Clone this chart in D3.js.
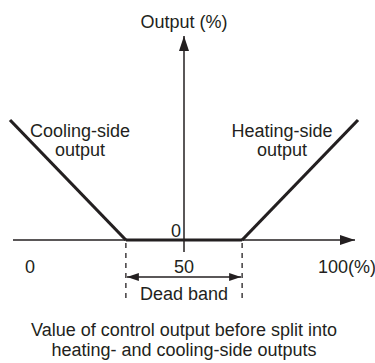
<!DOCTYPE html>
<html>
<head>
<meta charset="utf-8">
<script src="https://cdn.jsdelivr.net/npm/d3@7/dist/d3.min.js"></script>
<style>
  html, body { margin: 0; padding: 0; background: #fff; }
  svg { display: block; font-family: "Liberation Sans", Arial, sans-serif; }
  text { fill: #231f20; }
</style>
</head>
<body>
<svg id="chart" width="375" height="363"></svg>
<script>
// Split output: control value (%) -> cooling / heating output (%)
const coolingSide = [ { x: 0, y: 100 }, { x: 33.3, y: 0 } ];
const deadBand    = [ { x: 33.3, y: 0 }, { x: 66.7, y: 0 } ];
const heatingSide = [ { x: 66.7, y: 0 }, { x: 100, y: 100 } ];

const xTickLabels = ["0", "50", "100(%)"];
const xTickValues = [0, 50, 100];

const svg = d3.select("#chart");
const ink = "#231f20";
const fs = 18;

const x = d3.scaleLinear().domain([0, 100]).range([10, 358]);
const y = d3.scaleLinear().domain([0, 100]).range([240, 120]);

// arrow heads
const defs = svg.append("defs");
defs.append("marker")
  .attr("id", "arrow")
  .attr("viewBox", "0 0 15 10")
  .attr("refX", 15).attr("refY", 5)
  .attr("markerUnits", "userSpaceOnUse")
  .attr("markerWidth", 15).attr("markerHeight", 10)
  .attr("orient", "auto")
  .append("path").attr("d", "M0,0 L15,5 L0,10 Z").attr("fill", ink);
defs.append("marker")
  .attr("id", "arrowSmall")
  .attr("viewBox", "0 0 12 8")
  .attr("refX", 12).attr("refY", 4)
  .attr("markerUnits", "userSpaceOnUse")
  .attr("markerWidth", 12).attr("markerHeight", 8)
  .attr("orient", "auto-start-reverse")
  .append("path").attr("d", "M0,0 L12,4 L0,8 Z").attr("fill", ink);

// horizontal axis
svg.append("line")
  .attr("x1", 13).attr("x2", 355)
  .attr("y1", y(0)).attr("y2", y(0))
  .attr("stroke", ink).attr("stroke-width", 1.5)
  .attr("marker-end", "url(#arrow)");

// vertical axis
svg.append("line")
  .attr("x1", x(50)).attr("x2", x(50))
  .attr("y1", y(0) + 12).attr("y2", 36)
  .attr("stroke", ink).attr("stroke-width", 1.5)
  .attr("marker-end", "url(#arrow)");

svg.append("text")
  .attr("x", x(50)).attr("y", 28)
  .attr("text-anchor", "middle").attr("font-size", fs)
  .text("Output (%)");

// output curves
const line = d3.line().x(d => x(d.x)).y(d => y(d.y));
[coolingSide, deadBand, heatingSide].forEach(seg => {
  svg.append("path")
    .attr("d", line(seg))
    .attr("fill", "none")
    .attr("stroke", ink)
    .attr("stroke-width", 3.2)
    .attr("stroke-linejoin", "miter");
});

// dead band markers
[deadBand[0].x, deadBand[1].x].forEach(v => {
  svg.append("line")
    .attr("x1", x(v)).attr("x2", x(v))
    .attr("y1", y(0) + 3).attr("y2", 302)
    .attr("stroke", ink).attr("stroke-width", 1.3)
    .attr("stroke-dasharray", "5,5");
});
svg.append("line")
  .attr("x1", x(deadBand[0].x) + 1).attr("x2", x(deadBand[1].x) - 1)
  .attr("y1", 277).attr("y2", 277)
  .attr("stroke", ink).attr("stroke-width", 1.3)
  .attr("marker-start", "url(#arrowSmall)")
  .attr("marker-end", "url(#arrowSmall)");
svg.append("text")
  .attr("x", x(50)).attr("y", 300)
  .attr("text-anchor", "middle").attr("font-size", fs)
  .text("Dead band");

// origin label
svg.append("text")
  .attr("x", x(50) - 3).attr("y", 237)
  .attr("text-anchor", "end").attr("font-size", fs)
  .text("0");

// x tick labels
const tickOffset = [20, 0, -40];
const tickAnchor = ["middle", "middle", "start"];
xTickLabels.forEach((t, i) => {
  svg.append("text")
    .attr("x", x(xTickValues[i]) + tickOffset[i]).attr("y", 273)
    .attr("text-anchor", tickAnchor[i]).attr("font-size", fs)
    .text(t);
});

// curve labels
const labelsCool = ["Cooling-side", "output"];
const labelsHeat = ["Heating-side", "output"];
labelsCool.forEach((t, i) => {
  svg.append("text").attr("x", 80).attr("y", 137 + i * 19)
    .attr("text-anchor", "middle").attr("font-size", fs).text(t);
});
labelsHeat.forEach((t, i) => {
  svg.append("text").attr("x", 282).attr("y", 137 + i * 19)
    .attr("text-anchor", "middle").attr("font-size", fs).text(t);
});

// x axis title
const xTitle = ["Value of control output before split into", "heating- and cooling-side outputs"];
xTitle.forEach((t, i) => {
  svg.append("text").attr("x", x(50)).attr("y", 336 + i * 20)
    .attr("text-anchor", "middle").attr("font-size", fs).text(t);
});
</script>
</body>
</html>
